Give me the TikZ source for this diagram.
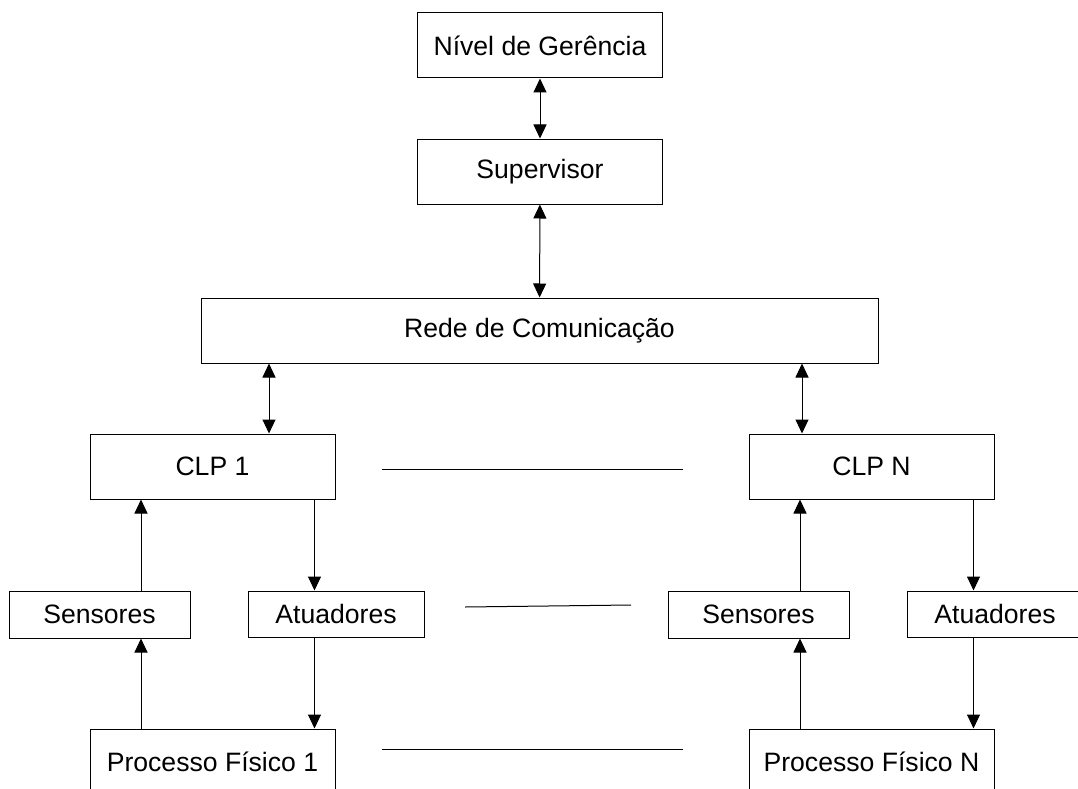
\documentclass[tikz,border=0pt]{standalone}
\usepackage{fontspec}
\setmainfont{Liberation Sans}
\usetikzlibrary{arrows.meta}

\begin{document}
\begin{tikzpicture}[
                x=1pt, y=-1pt,
                bloco/.style={rectangle,draw=black,line width=1pt,fill=white,inner sep=0pt,font=\fontsize{26.6}{30}\selectfont},
                seta/.style={line width=1pt,-{Triangle[width=13pt,length=14pt]}},
                setadupla/.style={line width=1pt,{Triangle[width=13pt,length=14pt]}-{Triangle[width=13pt,length=14pt]}},
                traco/.style={line width=1pt}
            ]
                \useasboundingbox (0,0) rectangle (1078,789);
                \clip (0,0) rectangle (1078,789);
                \node[bloco,minimum width=245pt,minimum height=65pt] (ger) at (540,45.5) {Nível de Gerência};
                \node[bloco,minimum width=245pt,minimum height=65pt] (sup) at (540,171.5) {Supervisor};
                \node[bloco,minimum width=677pt,minimum height=65pt] (rede) at (539.5,330.5) {Rede de Comunicação};
                \draw[setadupla] (ger) -- (sup);
                \draw[setadupla] (sup) -- (rede);
                \foreach \c/\xc/\xr/\txt in {1/212.5/269/1, n/871.5/802/N}
                    {
                    \node[bloco,minimum width=245pt,minimum height=65pt] (clp\c) at (\xc,466.5) {CLP \txt};
                    \node[bloco,minimum width=181pt,minimum height=47pt] (sen\c) at (\xc-113,614.5) {Sensores};
                    \node[bloco,minimum width=176pt,minimum height=46pt] (atu\c) at (\xc+123.5,614) {Atuadores};
                    \node[bloco,minimum width=245pt,minimum height=65pt] (proc\c) at (\xc,761.5) {Processo Físico \txt};
                    \coordinate (r\c) at (\xr,0);
                    \coordinate (s\c) at (\xc-71.5,0);
                    \coordinate (a\c) at (\xc+102,0);
                    \draw[setadupla] (rede.south -| r\c) -- (clp\c.north -| r\c);
                    \draw[seta] (sen\c.north -| s\c) -- (clp\c.south -| s\c);
                    \draw[seta] (proc\c.north -| s\c) -- (sen\c.south -| s\c);
                    \draw[seta] (clp\c.south -| a\c) -- (atu\c.north -| a\c);
                    \draw[seta] (atu\c.south -| a\c) -- (proc\c.north -| a\c);
                }
                \coordinate (t1a) at (382,469);
                \coordinate (t1b) at (683,469);
                \coordinate (t2a) at (465,607);
                \coordinate (t2b) at (631,605);
                \coordinate (t3a) at (382,749);
                \coordinate (t3b) at (683,749);
                \draw[traco] (t1a) -- (t1b);
                \draw[traco] (t2a) -- (t2b);
                \draw[traco] (t3a) -- (t3b);
            \end{tikzpicture}
\end{document}
